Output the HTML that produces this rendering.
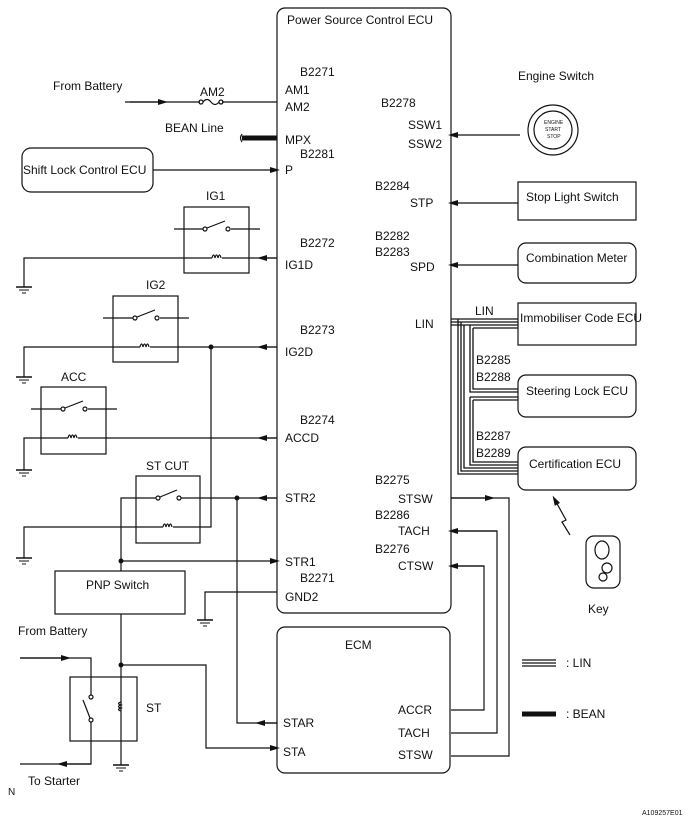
<!DOCTYPE html>
<html><head><style>
body{margin:0;background:#fff}
svg{display:block}
text{font-family:"Liberation Sans",Arial,sans-serif;font-size:12px;fill:#111}
</style></head><body>
<svg width="690" height="819" viewBox="0 0 690 819" xmlns="http://www.w3.org/2000/svg">
<defs>
<marker id="ar" viewBox="0 0 10 6" refX="5" refY="3" markerWidth="12" markerHeight="6" orient="auto" markerUnits="userSpaceOnUse"><path d="M0,0 L10,3 L0,6z" fill="#111"/></marker>
<g id="gnd"><line x1="-8" y1="0" x2="8" y2="0" stroke="#111" stroke-width="1.5"/><line x1="-5" y1="3" x2="5" y2="3" stroke="#111"/><line x1="-2" y1="6" x2="2" y2="6" stroke="#111"/></g>
</defs>
<g fill="none" stroke="#111" stroke-width="1.2">
<!-- main box -->
<rect x="277" y="8" width="174" height="605" rx="8"/>
<rect x="277" y="627" width="173" height="146" rx="8"/>
<!-- AM2 -->
<line x1="125" y1="102" x2="200" y2="102"/><line x1="222" y1="102" x2="277" y2="102"/>
<path d="M130,102 L163,102" marker-end="url(#ar)"/>
<circle cx="201" cy="102" r="2"/><circle cx="221" cy="102" r="2"/><path d="M203,102 q4,-5 8,0 q4,5 8,0"/>
<line x1="242" y1="138" x2="277" y2="138" stroke-width="5"/>
<path d="M242,134 q-3,4 0,8"/>
<rect x="22" y="148" width="131" height="44" rx="9"/>
<path d="M153,170 L275,170" marker-end="url(#ar)"/>
<!-- IG1 -->
<rect x="184" y="207" width="65" height="66"/>
<line x1="174" y1="229" x2="203" y2="229"/><line x1="231" y1="229" x2="260" y2="229"/>
<circle cx="205" cy="229" r="2"/><circle cx="228" cy="229" r="2"/><line x1="207" y1="228" x2="225" y2="221"/>
<path d="M24,287 L24,258 L212,258 M222,258 L277,258"/><path d="M212,258 q1.5,-6 3,0 q1.5,-6 3,0 q1.5,-6 3,0"/>
<path d="M276,258 L262,258" marker-end="url(#ar)"/>
<!-- IG2 -->
<rect x="113" y="296" width="65" height="66"/>
<line x1="103" y1="318" x2="133" y2="318"/><line x1="160" y1="318" x2="189" y2="318"/>
<circle cx="135" cy="318" r="2"/><circle cx="157" cy="318" r="2"/><line x1="137" y1="317" x2="155" y2="310"/>
<path d="M24,377 L24,347 L140,347 M150,347 L277,347"/><path d="M140,347 q1.5,-6 3,0 q1.5,-6 3,0 q1.5,-6 3,0"/>
<path d="M276,347 L262,347" marker-end="url(#ar)"/>
<!-- ACC -->
<rect x="41" y="387" width="65" height="67"/>
<line x1="31" y1="409" x2="61" y2="409"/><line x1="88" y1="409" x2="117" y2="409"/>
<circle cx="63" cy="409" r="2"/><circle cx="85" cy="409" r="2"/><line x1="65" y1="408" x2="83" y2="401"/>
<path d="M24,470 L24,438 L68,438 M78,438 L277,438"/><path d="M68,438 q1.5,-6 3,0 q1.5,-6 3,0 q1.5,-6 3,0"/>
<path d="M276,438 L262,438" marker-end="url(#ar)"/>
<!-- ST CUT -->
<rect x="136" y="476" width="64" height="67"/>
<path d="M121,561 L121,498 L156,498 M181,498 L277,498"/>
<circle cx="158" cy="498" r="2"/><circle cx="179" cy="498" r="2"/><line x1="160" y1="497" x2="177" y2="490"/>
<path d="M276,498 L262,498" marker-end="url(#ar)"/>
<path d="M24,558 L24,527 L163,527 M173,527 L211,527 L211,347"/><path d="M163,527 q1.5,-6 3,0 q1.5,-6 3,0 q1.5,-6 3,0"/>
<path d="M121,561 L275,561" marker-end="url(#ar)"/>
<path d="M237,498 L237,723 L277,723"/>
<path d="M277,723 L260,723" marker-end="url(#ar)"/>
<!-- PNP -->
<rect x="55" y="571" width="130" height="43"/>
<path d="M121,561 L121,571 M121,614 L121,741"/>
<path d="M121,665 L206,665 L206,748 L275,748" marker-end="url(#ar)"/>
<path d="M277,592 L205,592 L205,620"/>
<!-- ST -->
<rect x="70" y="677" width="67" height="64"/>
<path d="M20,658 L91,658 L91,695"/><path d="M20,658 L66,658" marker-end="url(#ar)"/>
<circle cx="91" cy="697" r="2"/><circle cx="91" cy="720" r="2"/><line x1="90" y1="718" x2="83" y2="700"/>
<path d="M91,722 L91,764 L20,764"/><path d="M91,764 L62,764" marker-end="url(#ar)"/>
<path d="M121,741 L121,765"/>
<path d="M121,702 q-5,1.5 0,3 q-5,1.5 0,3 q-5,1.5 0,3"/>
<!-- right side -->
<path d="M520,135 L453,135" marker-end="url(#ar)"/>
<circle cx="553" cy="130" r="25"/><circle cx="553" cy="130" r="19"/>
<rect x="518" y="182" width="118" height="38"/>
<path d="M518,203 L453,203" marker-end="url(#ar)"/>
<rect x="518" y="243" width="118" height="40" rx="8"/>
<path d="M518,265 L453,265" marker-end="url(#ar)"/>
<rect x="518" y="303" width="118" height="42"/>
<rect x="518" y="375" width="118" height="42" rx="8"/>
<rect x="518" y="447" width="118" height="43" rx="8"/>
<!-- LIN bus triple lines -->
<g stroke-width="1.3">
<path d="M451,319 L518,319 M451,322 L518,322 M451,325 L518,325"/>
<path d="M461,322 L461,471 L518,471 M464,325 L464,468 L518,468 M458,319 L458,474 L518,474"/>
<path d="M470,325 L470,392 L518,392 M473,328 L518,328 M473,328 L473,389 L518,389"/>
<path d="M470,397 L518,397 M470,397 L470,465 L518,465 M473,400 L518,400 M473,400 L473,462 L518,462"/>
</g>
<path d="M451,498 L509,498 L509,756 L451,756"/><path d="M451,498 L490,498" marker-end="url(#ar)"/>
<path d="M451,531 L497,531 L497,733 L451,733"/><path d="M497,531 L453,531" marker-end="url(#ar)"/>
<path d="M451,566 L484,566 L484,710 L451,710"/><path d="M484,566 L453,566" marker-end="url(#ar)"/>
<path d="M570,535 L562,522 L566,520 L555,500" marker-end="url(#ar)"/>
<!-- key -->
<rect x="586" y="536" width="34" height="52" rx="8"/>
<ellipse cx="602" cy="550" rx="7" ry="9"/><circle cx="607" cy="568" r="5"/><circle cx="603" cy="577" r="4"/>
<!-- legend -->
<path d="M522,660 L556,660 M522,663 L556,663 M522,666 L556,666"/>
<line x1="522" y1="714" x2="556" y2="714" stroke-width="5"/>
</g>
<g fill="#111">
<circle cx="211" cy="347" r="2.5"/><circle cx="237" cy="498" r="2.5"/><circle cx="121" cy="561" r="2.5"/><circle cx="121" cy="665" r="2.5"/>
</g>
<use href="#gnd" x="24" y="287"/><use href="#gnd" x="24" y="377"/><use href="#gnd" x="24" y="470"/><use href="#gnd" x="24" y="558"/><use href="#gnd" x="205" y="620"/><use href="#gnd" x="121" y="765"/>
<text x="287" y="24">Power Source Control ECU</text>
<text x="300" y="76">B2271</text><text x="285" y="94">AM1</text><text x="285" y="111">AM2</text>
<text x="285" y="144">MPX</text><text x="300" y="158">B2281</text><text x="285" y="174">P</text>
<text x="300" y="247">B2272</text><text x="285" y="269">IG1D</text>
<text x="300" y="334">B2273</text><text x="285" y="356">IG2D</text>
<text x="300" y="424">B2274</text><text x="285" y="442">ACCD</text>
<text x="285" y="502">STR2</text><text x="285" y="566">STR1</text><text x="300" y="582">B2271</text><text x="285" y="601">GND2</text>
<text x="381" y="107">B2278</text><text x="408" y="129">SSW1</text><text x="408" y="148">SSW2</text>
<text x="375" y="190">B2284</text><text x="410" y="207">STP</text>
<text x="375" y="240">B2282</text><text x="375" y="256">B2283</text><text x="410" y="271">SPD</text>
<text x="415" y="328">LIN</text>
<text x="375" y="484">B2275</text><text x="398" y="503">STSW</text>
<text x="375" y="519">B2286</text><text x="398" y="535">TACH</text>
<text x="375" y="553">B2276</text><text x="398" y="570">CTSW</text>
<text x="345" y="649">ECM</text>
<text x="398" y="714">ACCR</text><text x="398" y="737">TACH</text><text x="398" y="759">STSW</text>
<text x="283" y="727">STAR</text><text x="283" y="756">STA</text>
<text x="53" y="90">From Battery</text><text x="200" y="96">AM2</text><text x="165" y="132">BEAN Line</text>
<text x="23" y="174">Shift Lock Control ECU</text>
<text x="206" y="200">IG1</text><text x="146" y="289">IG2</text><text x="61" y="381">ACC</text><text x="146" y="470">ST CUT</text>
<text x="86" y="589">PNP Switch</text><text x="18" y="635">From Battery</text><text x="146" y="712">ST</text><text x="28" y="785">To Starter</text>
<text x="8" y="795" style="font-size:10px">N</text>
<text x="518" y="80">Engine Switch</text>
<text x="544" y="124" style="font-size:5px">ENGINE</text><text x="545" y="131" style="font-size:5px">START</text><text x="547" y="138" style="font-size:5px">STOP</text>
<text x="526" y="201">Stop Light Switch</text><text x="526" y="262">Combination Meter</text>
<text x="520" y="322">Immobiliser Code ECU</text><text x="475" y="315">LIN</text>
<text x="476" y="364">B2285</text><text x="476" y="381">B2288</text><text x="526" y="395">Steering Lock ECU</text>
<text x="476" y="440">B2287</text><text x="476" y="457">B2289</text><text x="529" y="468">Certification ECU</text>
<text x="588" y="613">Key</text>
<text x="566" y="667">:  LIN</text><text x="566" y="718">:  BEAN</text>
<text x="642" y="815" style="font-size:7px">A109257E01</text>
</svg>
</body></html>
